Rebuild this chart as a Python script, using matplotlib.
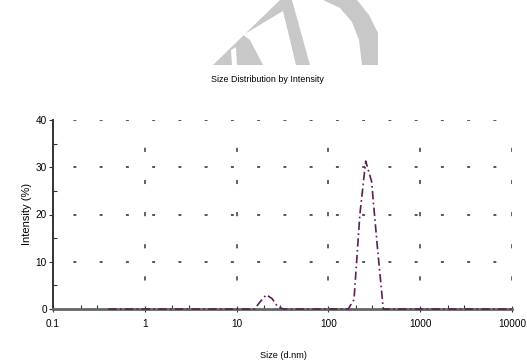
import numpy as np
import matplotlib.pyplot as plt
from matplotlib.patches import Polygon
from matplotlib.ticker import LogLocator, FixedLocator, NullFormatter

plt.rcParams['font.family'] = ['Liberation Sans', 'DejaVu Sans']

# Size distribution (d.nm) and intensity (%)
sizes = [0.4, 1.0, 10.0, 15.69, 18.17, 21.04, 24.36, 28.21, 32.67, 100.0,
         164.2, 190.1, 220.2, 255.0, 295.3, 342.0, 396.1, 1000.0, 10000.0]
intensity = [0, 0, 0, 0, 1.6, 3.0, 2.2, 0.4, 0, 0,
             0, 2.0, 20.0, 31.3, 27.0, 13.0, 0, 0, 0]

x_ticks = [0.1, 1, 10, 100, 1000, 10000]
x_labels = ['0.1', '1', '10', '100', '1000', '10000']
y_ticks = [0, 10, 20, 30, 40]

W, H = 527, 363
fig = plt.figure(figsize=(W / 100, H / 100), dpi=100)

# background watermark, drawn in pixel coordinates
bg = fig.add_axes([0, 0, 1, 1], zorder=0)
bg.set_xlim(0, W)
bg.set_ylim(H, 0)
bg.axis('off')
grey = '#c8c8c8'
bg.add_patch(Polygon([(213, 65), (280, 0), (292, 0), (310, 65)], closed=True,
                     fc=grey, ec='none'))
bg.add_patch(Polygon([(243, 35), (283, 11), (296, 65), (263, 65), (250, 40)],
                     closed=True, fc='white', ec='none'))
bg.add_patch(Polygon([(231, 50), (236, 47), (237, 65), (232, 65)], closed=True,
                     fc='white', ec='none'))
bg.add_patch(Polygon([(323, 0), (340, 8), (352, 22), (359, 40), (362, 65),
                      (378, 65), (378, 33), (369, 15), (357, 0)],
                     closed=True, fc=grey, ec='none'))

ax = fig.add_axes([53 / W, 1 - 309 / H, (512 - 53) / W, (309 - 120) / H], zorder=1)
ax.patch.set_alpha(0)

ax.plot(sizes, intensity, color='#5a1f50', lw=1.2,
        linestyle=(0, (5, 2, 1, 2)), clip_on=False, zorder=3)

ax.set_xscale('log')
ax.set_xlim(0.1, 10000)
ax.set_ylim(0, 40)

ax.xaxis.set_major_locator(FixedLocator(x_ticks))
ax.set_xticklabels(x_labels)
ax.xaxis.set_minor_locator(LogLocator(base=10, subs=[2, 3], numticks=20))
ax.xaxis.set_minor_formatter(NullFormatter())
ax.set_yticks(y_ticks)
ax.set_yticks([5, 15, 25, 35], minor=True)

ax.tick_params(axis='both', which='major', labelsize=7.2, length=3, width=0.8,
               color='#333333')
ax.tick_params(axis='y', which='major', pad=1.5)
ax.tick_params(axis='x', which='major', direction='inout', length=5, pad=5)
ax.tick_params(axis='x', which='minor', direction='in', length=3, width=0.8,
               color='#333333')
ax.tick_params(axis='y', which='minor', direction='in', length=3, width=0.8,
               color='#333333')

# sparse dashed grid
for y in [10, 20, 30, 40]:
    ax.axhline(y, color='#555555', lw=1.4, linestyle=(3, (1.5, 12)), zorder=1)
for x in [1, 10, 100, 1000, 10000]:
    ax.axvline(x, color='#555555', lw=1.3, linestyle=(2, (2.3, 15.5)), zorder=1)

for side in ['top', 'right']:
    ax.spines[side].set_visible(False)
ax.spines['left'].set_color('#333333')
ax.spines['left'].set_linewidth(1.4)
ax.spines['bottom'].set_color('#666666')
ax.spines['bottom'].set_linewidth(2.0)

fig.text(267 / W, 1 - 80 / H, 'Size Distribution by Intensity', fontsize=6.4,
         ha='center', va='center')
fig.text(283 / W, 1 - 355 / H, 'Size (d.nm)', fontsize=6.6, ha='center', va='center')
fig.text(27 / W, 1 - 214 / H, 'Intensity (%)', fontsize=8, ha='center',
         va='center', rotation=90)

fig.savefig('out.png', dpi=100)
